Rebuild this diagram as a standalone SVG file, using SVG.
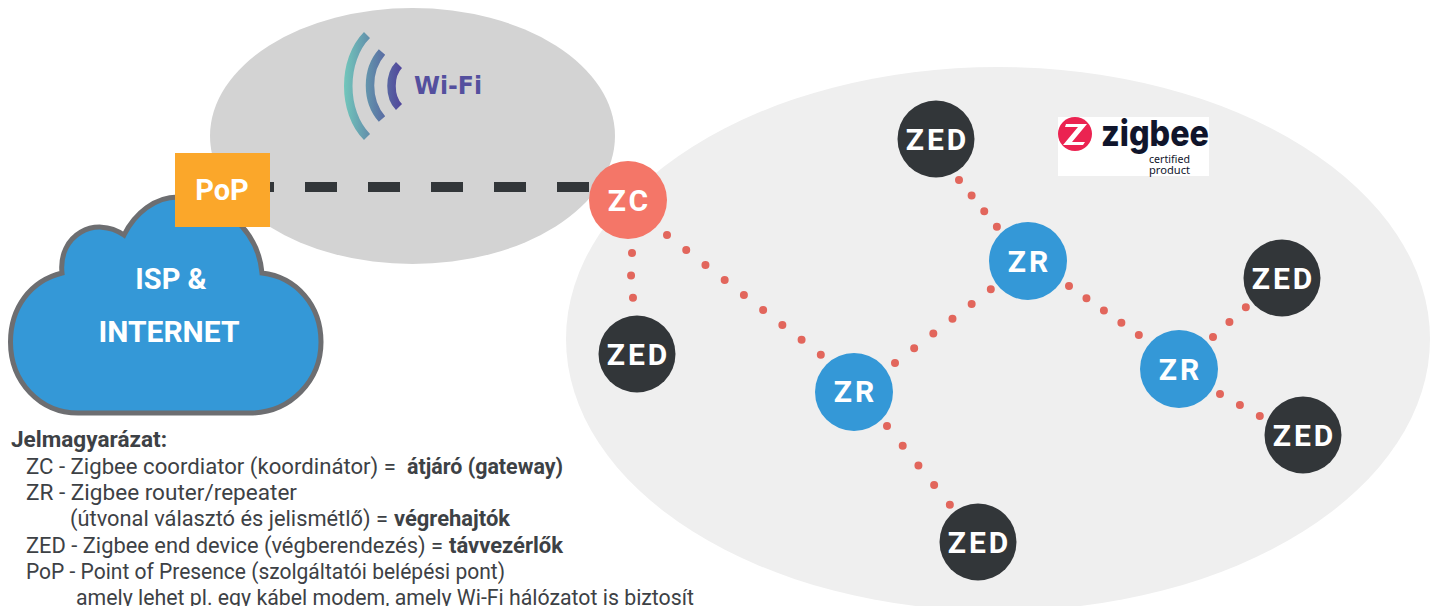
<svg xmlns="http://www.w3.org/2000/svg" width="1430" height="606" viewBox="0 0 1430 606">
<defs>
<linearGradient id="wifi" gradientUnits="userSpaceOnUse" x1="344" y1="85" x2="404" y2="85"><stop offset="0" stop-color="#72c7bb"/><stop offset="0.5" stop-color="#5f84a8"/><stop offset="1" stop-color="#50409a"/></linearGradient>
</defs>
<style>
text{font-family:"Roboto","Liberation Sans",sans-serif}
.n{fill:#fff;font-weight:700;font-size:30px;text-anchor:middle;letter-spacing:3px}
.d{fill:#323639}.r{fill:#3498d7}
.dot{fill:none;stroke:#e2665c;stroke-width:8;stroke-linecap:round;stroke-dasharray:0 1}
.l{fill:#3d4145;font-size:21.5px}
.b{fill:#3d4145;font-size:21.5px;font-weight:700}
.arc{fill:none;stroke:url(#wifi);stroke-width:8.500}
</style>
<g id="zigbee-network"><ellipse cx="998" cy="339" rx="432" ry="272" fill="#efefef"/></g>
<g id="wifi-network"><ellipse cx="412.500" cy="136" rx="202.500" ry="128" fill="#d3d3d3"/>
<path class="arc" d="M367 35C342 60 342 112 367 137"/>
<path class="arc" d="M382 52C366 70 366 101 382 119"/>
<path class="arc" d="M399 65C389 75 389 97 399 107"/>
<text x="414" y="94" fill="#544f9e" font-size="25" font-weight="700" style="font-family:'DejaVu Sans',sans-serif" textLength="68" lengthAdjust="spacingAndGlyphs">Wi-Fi</text></g>
<g id="connectors">
<path d="M270 187H590" fill="none" stroke="#323639" stroke-width="10" stroke-dasharray="32 31" stroke-dashoffset="-35"/>
<path class="dot" pathLength="2.010" d="M632 253L631 277L633 298"/>
<path class="dot" pathLength="8.010" d="M667 235L821 355"/>
<path class="dot" pathLength="5.010" d="M895 363L991 289"/>
<path class="dot" pathLength="3.010" d="M959 180L997 227"/>
<path class="dot" pathLength="4.010" d="M1069 286L1139 335"/>
<path class="dot" pathLength="2.010" d="M1213 337L1246 307"/>
<path class="dot" pathLength="2.010" d="M1220 394L1260 416"/>
<path class="dot" pathLength="4.010" d="M887 426L950 505"/>
</g>
<g id="cloud"><path d="M78 413H250C291 413 321 380 321 342C321 305 296 277 262 273C258 228 218 197 178 197C155 197 135 213 124 235C95 215 58 235 62 273C30 281 10.500 308 10.500 342C10.500 382 40 413 78 413Z" fill="#3498d7" stroke="#6d6e71" stroke-width="5"/>
<text x="171" y="289" fill="#fff" font-size="29" font-weight="700" text-anchor="middle">ISP &amp;</text>
<text x="169" y="342" fill="#fff" font-size="29" font-weight="700" text-anchor="middle" textLength="141" lengthAdjust="spacingAndGlyphs">INTERNET</text></g>
<g id="pop"><rect x="175" y="153" width="95" height="74" fill="#fba72a"/><text x="222" y="200" fill="#fff" font-size="29" font-weight="700" text-anchor="middle">PoP</text></g>
<g id="zc"><circle cx="628" cy="200" r="39" fill="#f47668"/><text class="n" x="629.500" y="211">ZC</text></g>
<g id="zed1"><circle cx="936" cy="139" r="38.500" class="d"/><text class="n" x="937.500" y="150">ZED</text></g>
<g id="zed2"><circle cx="637" cy="354" r="38.500" class="d"/><text class="n" x="638.500" y="365">ZED</text></g>
<g id="zed3"><circle cx="1282" cy="278" r="38.500" class="d"/><text class="n" x="1283.500" y="289">ZED</text></g>
<g id="zed4"><circle cx="1303" cy="435" r="38.500" class="d"/><text class="n" x="1304.500" y="446">ZED</text></g>
<g id="zed5"><circle cx="978" cy="542" r="38.500" class="d"/><text class="n" x="979.500" y="553">ZED</text></g>
<g id="zr1"><circle cx="1028" cy="261" r="39" class="r"/><text class="n" x="1029.500" y="272">ZR</text></g>
<g id="zr2"><circle cx="854" cy="392" r="39" class="r"/><text class="n" x="855.500" y="402">ZR</text></g>
<g id="zr3"><circle cx="1179" cy="369" r="39" class="r"/><text class="n" x="1180.500" y="380">ZR</text></g>
<g id="zigbee-logo"><rect x="1058" y="117" width="151" height="59" fill="#fff"/>
<circle cx="1075" cy="134" r="17" fill="#eb2351"/>
<path d="M1066 124H1087L1072 142H1085L1083 145H1063L1078 127H1065Z" fill="#fff"/>
<text x="1101" y="146" fill="#10152c" font-size="36" font-weight="800" textLength="108" lengthAdjust="spacingAndGlyphs" style="font-family:Inter,sans-serif">zigbee</text>
<text x="1149" y="163" fill="#10152c" font-size="10" textLength="41" lengthAdjust="spacingAndGlyphs" style="font-family:'Noto Sans',sans-serif">certified</text>
<text x="1149" y="174" fill="#10152c" font-size="10" textLength="41" lengthAdjust="spacingAndGlyphs" style="font-family:'Noto Sans',sans-serif">product</text></g>
<g id="legend">
<text class="b" x="11" y="447" textLength="156" lengthAdjust="spacingAndGlyphs">Jelmagyarázat:</text>
<text class="l" x="26" y="474" textLength="370" lengthAdjust="spacingAndGlyphs">ZC - Zigbee coordiator (koordinátor) =</text>
<text class="b" x="407" y="474" textLength="156" lengthAdjust="spacingAndGlyphs">átjáró (gateway)</text>
<text class="l" x="26" y="500" textLength="271" lengthAdjust="spacingAndGlyphs">ZR - Zigbee router/repeater</text>
<text class="l" x="70" y="526" textLength="318" lengthAdjust="spacingAndGlyphs">(útvonal választó és jelismétlő) =</text>
<text class="b" x="394" y="526" textLength="116" lengthAdjust="spacingAndGlyphs">végrehajtók</text>
<text class="l" x="26" y="553" textLength="417" lengthAdjust="spacingAndGlyphs">ZED - Zigbee end device (végberendezés) =</text>
<text class="b" x="449" y="553" textLength="114" lengthAdjust="spacingAndGlyphs">távvezérlők</text>
<text class="l" x="26" y="579" textLength="479" lengthAdjust="spacingAndGlyphs">PoP - Point of Presence (szolgáltatói belépési pont)</text>
<text class="l" x="76" y="605" textLength="618" lengthAdjust="spacingAndGlyphs">amely lehet pl. egy kábel modem, amely Wi-Fi hálózatot is biztosít</text>
</g>
</svg>
